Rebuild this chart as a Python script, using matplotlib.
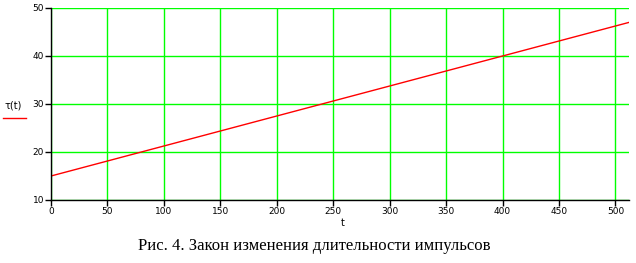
import matplotlib
matplotlib.use("Agg")
import matplotlib.pyplot as plt

t = [0, 512]
tau = [15, 47]
xticks = [0, 50, 100, 150, 200, 250, 300, 350, 400, 450, 500]
yticks = [10, 20, 30, 40, 50]

fig = plt.figure(figsize=(6.36, 2.63), dpi=100)
ax = fig.add_axes([51/636, 1-200/263, 578/636, 192/263])
ax.plot(t, tau, color='#ff0000', lw=1.0)
ax.set_xlim(0, 512)
ax.set_ylim(10, 50)
ax.set_xticks(xticks)
ax.set_yticks(yticks)
ax.grid(True, color='#00ff00', lw=1.0)
ax.set_axisbelow(True)
for s in ['top', 'right']:
    ax.spines[s].set_visible(False)
for s in ['left', 'bottom']:
    ax.spines[s].set_color('black')
    ax.spines[s].set_linewidth(1.0)
ax.tick_params(direction='out', length=4, width=1, labelsize=6.5, pad=1, colors='black')
for lab in ax.get_xticklabels() + ax.get_yticklabels():
    lab.set_family('Liberation Sans Narrow')

fig.text(343/636, 1-223/263, 't', ha='center', va='center', fontsize=7, family='DejaVu Sans')
fig.text(13/636, 1-105/263, 'τ(t)', ha='center', va='center', fontsize=7, family='DejaVu Sans')
fig.add_artist(plt.Line2D([3/636, 26/636], [1-118/263, 1-118/263], color='#ff0000', lw=1.0, transform=fig.transFigure))
fig.text(314/636, 1-246/263, 'Рис. 4. Закон изменения длительности импульсов', ha='center', va='center',
         fontsize=12, family='Liberation Serif')
fig.savefig('out.png', dpi=100)
